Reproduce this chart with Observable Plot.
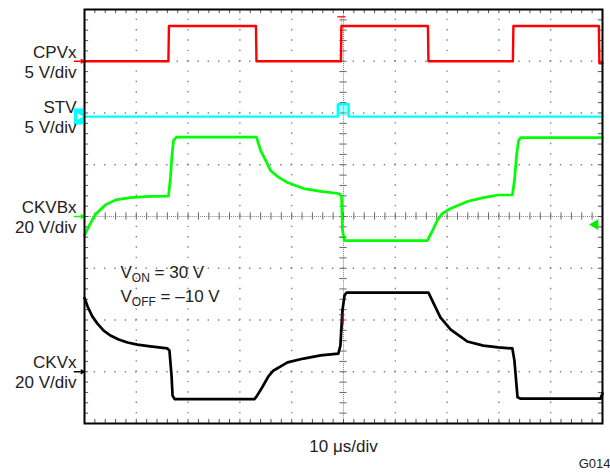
<!DOCTYPE html>
<html><head><meta charset="utf-8">
<script src="https://cdn.jsdelivr.net/npm/d3@7"></script>
<script src="https://cdn.jsdelivr.net/npm/@observablehq/plot@0.6"></script>
<style>
html,body{margin:0;padding:0;background:#fff;}
#chart{width:610px;height:473px;}
</style></head><body><div id="chart"></div>
<script>
// Oscilloscope traces: [time (µs), amplitude (V)]
const cpvx = [[0,0],[16.2,0],[16.3,3.4],[33.1,3.4],[33.2,0],[49.5,0],[49.6,3.4],[66.3,3.4],[66.4,0],[82.7,0],[82.8,3.4],[99.3,3.4],[99.4,-0.2],[100,-0.2]];
const stv = [[0,0],[48.9,0],[48.9,1.2],[51.0,1.2],[51.0,0],[100,0]];
const ckvbx = [[0,-7.3],[0.8,-3.9],[2.1,0.8],[4.1,4.6],[6.0,6.4],[8.9,7.3],[12.7,7.8],[16.2,7.9],[16.6,15],[16.9,24],[17.2,29.5],[17.8,30.7],[33.2,30.7],[34.0,25.5],[35.0,21.6],[35.9,17.8],[37.5,15.1],[39.2,13.1],[42.3,10.8],[45.6,9.7],[49.0,8.9],[49.6,8.1],[49.8,-5.4],[50.2,-9.3],[66.2,-9.3],[67.2,-5.4],[68.1,-1.5],[69.1,1.2],[70.7,3.1],[73.9,5.8],[77.0,7.3],[79.9,8.3],[82.6,8.3],[83.0,13.9],[83.4,23.6],[83.8,29.4],[84.2,30.5],[100,30.5]];
const ckvx = [[0,28.5],[0.6,25.2],[1.5,21.4],[2.5,18.6],[3.7,15.9],[5.0,14.0],[6.6,12.5],[8.3,11.3],[10.2,10.5],[12.7,9.8],[16.0,9.0],[16.4,8.2],[16.8,-1.4],[17.0,-9.2],[17.4,-10.6],[32.8,-10.6],[33.2,-9.6],[34.4,-5.7],[35.5,-1.8],[36.5,0.5],[37.8,2.0],[39.2,3.6],[42.3,5.1],[45.6,6.3],[49.0,7.0],[49.4,10.1],[49.8,23.7],[50.2,29.5],[50.6,30.6],[66.4,30.6],[67.4,26.4],[68.7,21.0],[70.7,16.3],[72.6,13.6],[73.9,11.7],[77.0,10.1],[79.9,9.4],[82.6,9.0],[83.0,4.3],[83.4,-5.3],[83.6,-9.9],[84.2,-10.4],[99.6,-10.4],[100,-8.4]];

// Channel settings
const channelNames = ["CPVx","STV","CKVBx","CKVx"];
const channelScaleText = ["5 V/div","5 V/div","20 V/div","20 V/div"];
const voltsPerDiv = [5,5,20,20];
const groundDiv = [7, 5.93, 4, 1];
const channelColors = ["#ff0000","#00ffff","#00ff00","#000000"];
const traces = [cpvx, stv, ckvbx, ckvx];

// Graticule
const timebaseText = "10 μs/div";
const figureId = "G014";
const majorT = [10,20,30,40,60,70,80,90];
const majorD = [1,2,3,5,6,7];
const minorT = d3.range(0, 100.01, 2);
const minorD = d3.range(0, 8.001, 0.2);

// Annotations
const annoText = ["VON = 30 V", "VOFF = –10 V"];

const channels = channelNames.map((name, i) => ({name, scaleText: channelScaleText[i], ground: groundDiv[i], color: channelColors[i]}));
const toRows = (ci) => traces[ci].map(([t, v]) => ({t, v, d: groundDiv[ci] + v / voltsPerDiv[ci]}));

const font = "Liberation Sans, Arial, Helvetica, sans-serif";
const gridColor = "#808080";

const marks = [
  Plot.ruleX(majorT, {stroke: gridColor, strokeWidth: 1.4, strokeDasharray: "1.4 8.95", strokeDashoffset: 0.7}),
  Plot.ruleY(majorD, {stroke: gridColor, strokeWidth: 1.4, strokeDasharray: "1.4 8.96", strokeDashoffset: 0.7}),
  Plot.ruleX([50], {stroke: gridColor, strokeWidth: 1, strokeDasharray: "1 1.07"}),
  Plot.ruleY([4], {stroke: gridColor, strokeWidth: 1, strokeDasharray: "1 1.07"}),
  Plot.ruleX(minorT, {y1: 3.93, y2: 4.07, stroke: "#666", strokeWidth: 1}),
  Plot.ruleY(minorD, {x1: 49.3, x2: 50.7, stroke: "#666", strokeWidth: 1}),
  Plot.ruleX(minorT, {y1: 0, y2: 0.08, stroke: "#555", strokeWidth: 1}),
  Plot.ruleX(minorT, {y1: 7.92, y2: 8, stroke: "#555", strokeWidth: 1}),
  Plot.ruleY(minorD, {x1: 0, x2: 0.8, stroke: "#555", strokeWidth: 1}),
  Plot.ruleY(minorD, {x1: 99.2, x2: 100, stroke: "#555", strokeWidth: 1}),
  Plot.ruleX([49.6], {y1: 7.0, y2: 7.86, stroke: "#ff8080", strokeWidth: 1, strokeDasharray: "1.5 1.5"}),
  Plot.ruleY([7.86], {x1: 48.9, x2: 50.5, stroke: "#ff3030", strokeWidth: 1.5}),
  Plot.areaY(toRows(1), {x: "t", y1: groundDiv[1], y2: "d", fill: "#00ffff", fillOpacity: 0.35}),
  Plot.line(toRows(3), {x: "t", y: "d", stroke: channelColors[3], strokeWidth: 2.7}),
  Plot.line(toRows(2), {x: "t", y: "d", stroke: channelColors[2], strokeWidth: 2.7}),
  Plot.line(toRows(1), {x: "t", y: "d", stroke: channelColors[1], strokeWidth: 2.4}),
  Plot.line(toRows(0), {x: "t", y: "d", stroke: channelColors[0], strokeWidth: 2.4}),
  Plot.ruleX([49.8], {y1: 1.9, y2: 2.1, stroke: "#600", strokeWidth: 2}),
  Plot.ruleY([2.1], {x1: 49.3, x2: 50.3, stroke: "#333", strokeWidth: 1}),
  Plot.ruleY([3.6], {x1: 49.2, x2: 50.6, stroke: "#00cc00", strokeWidth: 1}),
  Plot.arrow(channels.filter((c, i) => i !== 1), {x1: -1.95, x2: -0.1, y1: "ground", y2: "ground", stroke: "color", strokeWidth: 1.5, headLength: 6}),
  Plot.rect([channels[1]], {x1: -1.95, x2: -0.2, y1: d => d.ground - 0.16, y2: d => d.ground + 0.15, fill: "color"}),
  Plot.dot([channels[1]], {x: -1.0, y: "ground", symbol: "triangle", rotate: 90, r: 2.5, fill: "white"}),
  Plot.dot([groundDiv[2]], {x: 98.6, y: d => d - 0.155, symbol: "triangle", rotate: -90, r: 4, fill: "#00ee00"}),
  Plot.frame({stroke: "black", strokeWidth: 2}),
  Plot.text(channels, {x: 0, y: "ground", text: "name", dx: -8, dy: -9, textAnchor: "end", fontSize: 17, fill: "#222"}),
  Plot.text(channels, {x: 0, y: "ground", text: "scaleText", dx: -8, dy: 11, textAnchor: "end", fontSize: 17, fill: "#222"}),
  Plot.text(annoText, {x: 6.95, y: (d, i) => 2.82 - i * 0.465, textAnchor: "start", lineAnchor: "bottom", fontSize: 17, fill: "#222"}),
  Plot.text([timebaseText], {frameAnchor: "bottom", dy: 28, fontSize: 17, fill: "#222"}),
  Plot.text([figureId], {frameAnchor: "bottom-right", dx: 8, dy: 44, textAnchor: "end", fontSize: 13, fill: "#222"})
];

const chart = Plot.plot({
  width: 610, height: 473,
  marginLeft: 84, marginRight: 8, marginTop: 9, marginBottom: 50,
  x: {domain: [0, 100], axis: null},
  y: {domain: [0, 8], axis: null},
  style: {fontFamily: font, background: "white", overflow: "visible"},
  marks
});

d3.select(chart).selectAll("text").each(function () {
  const s = this.textContent;
  const m = s.match(/^V(ON|OFF)( = .*)$/);
  if (m) {
    const el = d3.select(this);
    el.text("V");
    el.append("tspan").attr("dy", 4).attr("font-size", 12).text(m[1]);
    el.append("tspan").attr("dy", -4).text(m[2]);
  }
});
document.getElementById("chart").appendChild(chart);
</script></body></html>
